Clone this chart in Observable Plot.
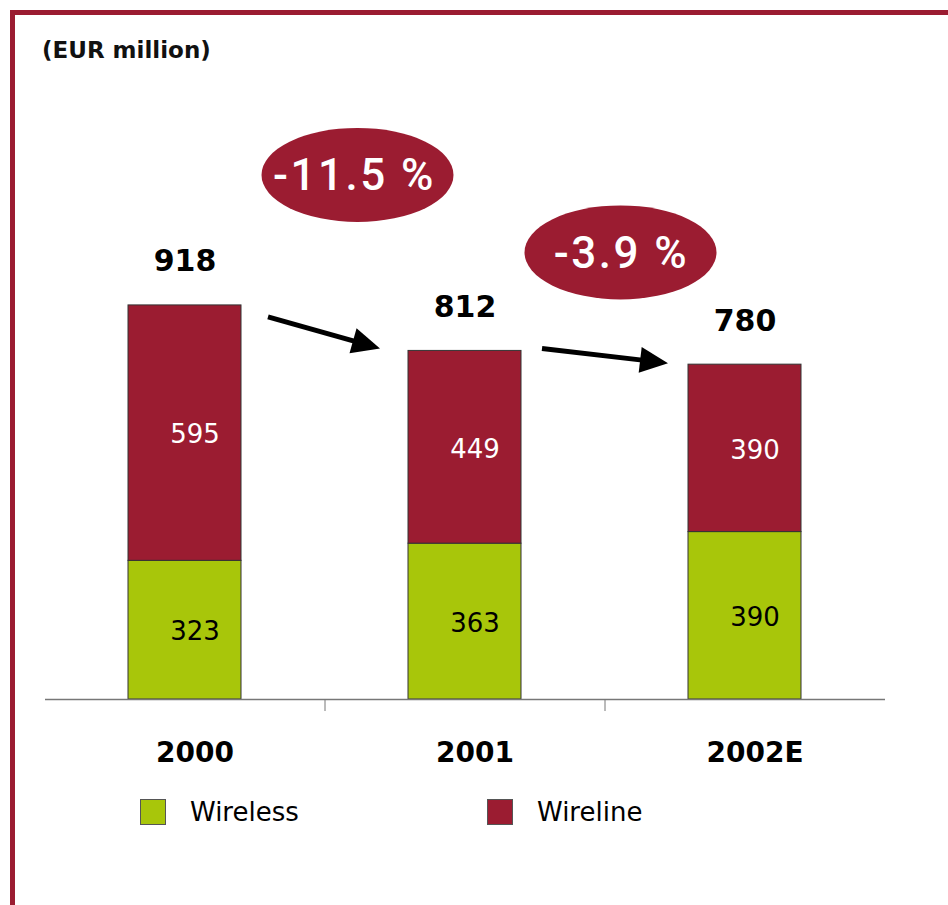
<!DOCTYPE html>
<html><head><meta charset="utf-8">
<script src="https://cdn.jsdelivr.net/npm/d3@7"></script>
<script src="https://cdn.jsdelivr.net/npm/@observablehq/plot@0.6"></script>
<style>
body{margin:0;background:#fff;}
#wrap{position:relative;width:948px;height:905px;overflow:hidden;font-family:"DejaVu Sans",sans-serif;background:#fff;}
#frame{position:absolute;left:10px;top:10px;width:960px;height:920px;border-top:5px solid #9B1C31;border-left:5px solid #9B1C31;box-sizing:border-box;}
#unit{position:absolute;left:42px;top:37px;font-size:23px;font-weight:bold;color:#111;}
#chart{position:absolute;left:0;top:0;}
.lg{position:absolute;top:797px;display:flex;align-items:center;}
.sw{width:24px;height:24px;border:1px solid #555;}
.lt{margin-left:24px;font-size:26px;color:#000;}
</style></head>
<body>
<div id="wrap">
  <div id="chart"></div>
  <div id="frame"></div>
  <div id="unit">(EUR million)</div>
</div>
<script>
const years = ["2000", "2001", "2002E"];
const seriesNames = ["Wireless", "Wireline"];
const wireless = [323, 363, 390];
const wireline = [595, 449, 390];
const totals = [918, 812, 780];
const growthLabels = ["-11.5 %", "-3.9 %"];
const colors = ["#A8C60A", "#9B1C31"];

const rows = [];
years.forEach((y, i) => {
  rows.push({year: y, series: seriesNames[0], value: wireless[i]});
  rows.push({year: y, series: seriesNames[1], value: wireline[i]});
});

const plot = Plot.plot({
  width: 948,
  height: 905,
  marginLeft: 45,
  marginRight: 63,
  marginTop: 98,
  marginBottom: 206,
  style: {fontFamily: "DejaVu Sans, sans-serif", background: "transparent", overflow: "visible"},
  x: {domain: years, paddingInner: 0.596, paddingOuter: 0.298, axis: null},
  y: {domain: [0, 1400], axis: null},
  color: {domain: seriesNames, range: colors},
  marks: [
    Plot.barY(rows, {x: "year", y: "value", fill: "series", stroke: "#333", strokeWidth: 1}),
    Plot.text(rows, Plot.stackY({x: "year", y: "value",
      text: d => d.series === "Wireline" ? String(d.value) : null,
      fill: "white", fontSize: 26, dx: 10, dy: 2, letterSpacing: 1.5})),
    Plot.text(rows, Plot.stackY({x: "year", y: "value",
      text: d => d.series === "Wireless" ? String(d.value) : null,
      fill: "black", fontSize: 26, dx: 10, dy: 2, letterSpacing: 1.5})),
    Plot.text(years, {x: d => d, y: (d, i) => totals[i], text: (d, i) => String(totals[i]),
      lineAnchor: "bottom", dy: -34, fontSize: 30, fontWeight: "bold", fill: "#000", letterSpacing: 2}),
    Plot.ruleY([0], {stroke: "#777", strokeWidth: 1.5}),
    Plot.ruleX(years.slice(1), {x: d => d, y1: 0, y2: -28, dx: -140, stroke: "#777", strokeWidth: 1}),
    Plot.text(years, {x: d => d, y: 0, text: d => d, lineAnchor: "bottom", dy: 62, dx: 10,
      fontSize: 28, fontWeight: "bold", fill: "#000"})
  ]
});
document.getElementById("chart").appendChild(plot);

// annotations: growth ellipses and arrows, positioned with the plot's scales
const xs = plot.scale("x"), ys = plot.scale("y");
const bw = xs.bandwidth;
const barLeft = years.map(y => xs.apply(y));
const barRight = barLeft.map(l => l + bw);
const barTop = totals.map(t => ys.apply(t));
const svg = d3.select(plot);
const g = svg.append("g");

const ell = [
  {cx: (barRight[0] + barLeft[1]) / 2 + 33, cy: barTop[0] - 130, tx: -3, ty: 15},
  {cx: (barRight[1] + barLeft[2]) / 2 + 16, cy: barTop[1] - 98, tx: 1, ty: 16}
];
ell.forEach((e, i) => {
  g.append("ellipse").attr("cx", e.cx).attr("cy", e.cy).attr("rx", 96).attr("ry", 47).attr("fill", colors[1]);
  g.append("text").attr("x", e.cx + e.tx).attr("y", e.cy + e.ty).attr("text-anchor", "middle")
    .attr("fill", "white").attr("font-family", "Roboto, DejaVu Sans, sans-serif").attr("font-weight", 500)
    .attr("font-size", 44).attr("letter-spacing", 2.5).text(growthLabels[i]);
});

function arrow(x1, y1, x2, y2) {
  const dx = x2 - x1, dy = y2 - y1, len = Math.hypot(dx, dy);
  const ux = dx / len, uy = dy / len, hl = 28, hw = 13;
  const bx = x2 - ux * hl, by = y2 - uy * hl;
  g.append("line").attr("x1", x1).attr("y1", y1).attr("x2", bx + ux * 2).attr("y2", by + uy * 2)
    .attr("stroke", "#000").attr("stroke-width", 5);
  g.append("path").attr("d", `M${x2},${y2}L${bx - uy * hw},${by + ux * hw}L${bx + uy * hw},${by - ux * hw}Z`).attr("fill", "#000");
}
arrow(barRight[0] + 27, barTop[0] + 12, barLeft[1] - 28, barTop[1] - 2);
arrow(barRight[1] + 21, barTop[1] - 2, barLeft[2] - 20, barTop[2] - 1);

// legend
const wrap = document.getElementById("wrap");
[140, 487].forEach((x, i) => {
  const d = document.createElement("div");
  d.className = "lg";
  d.style.left = x + "px";
  d.innerHTML = `<div class="sw" style="background:${colors[i]}"></div><div class="lt">${seriesNames[i]}</div>`;
  wrap.appendChild(d);
});
</script>
</body></html>
